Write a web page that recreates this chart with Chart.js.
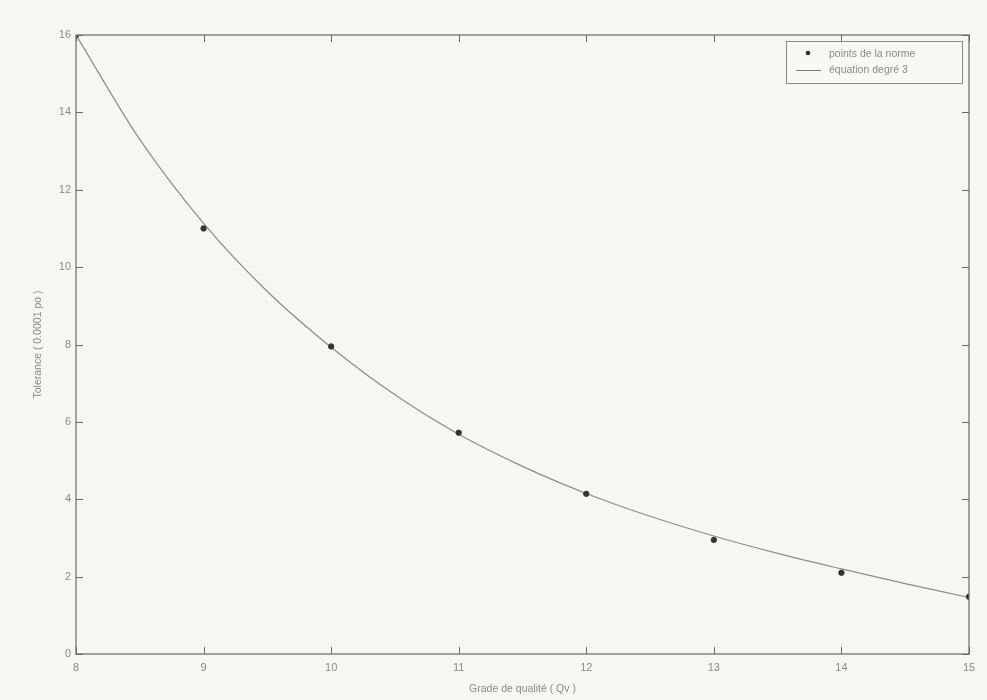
<!DOCTYPE html>
<html>
<head>
<meta charset="utf-8">
<script src="https://cdn.jsdelivr.net/npm/chart.js@4/dist/chart.umd.min.js"></script>
<style>
html,body{margin:0;padding:0;background:#f6f6f2;}
#wrap{width:987px;height:700px;}
</style>
</head>
<body>
<div id="wrap"><canvas id="c" width="987" height="700"></canvas></div>
<script>
const xTicks = [8, 9, 10, 11, 12, 13, 14, 15];
const yTicks = [0, 2, 4, 6, 8, 10, 12, 14, 16];
const normX = [8, 9, 10, 11, 12, 13, 14, 15];
const normY = [16, 11, 7.95, 5.72, 4.14, 2.95, 2.1, 1.48];
const curveX = [8, 8.5, 9, 9.5, 10, 10.5, 11, 11.5, 12, 12.5, 13, 13.5, 14, 14.5, 15];
const curveY = [16, 13.3, 11.13, 9.37, 7.93, 6.70, 5.68, 4.85, 4.15, 3.56, 3.05, 2.6, 2.2, 1.82, 1.46];
const legendLabels = ['points de la norme', 'équation degré 3'];
const xTitle = 'Grade de qualité ( Qv )';
const yTitle = 'Tolerance ( 0.0001 po )';

const axisColor = '#6a6a6a';
const textColor = '#8a8a8a';
const FONT = 'Liberation Sans, Arial, sans-serif';

const framePlugin = {
  id: 'frame',
  afterDatasetsDraw(chart) {
    const {ctx, chartArea: a, scales: {x, y}} = chart;
    ctx.save();
    ctx.strokeStyle = axisColor;
    ctx.lineWidth = 1.2;
    ctx.strokeRect(a.left, a.top, a.right - a.left, a.bottom - a.top);
    ctx.lineWidth = 1;
    const t = 7;
    xTicks.forEach(v => {
      const px = Math.round(x.getPixelForValue(v)) + 0.5;
      ctx.beginPath();
      ctx.moveTo(px, a.bottom); ctx.lineTo(px, a.bottom - t);
      ctx.moveTo(px, a.top); ctx.lineTo(px, a.top + t);
      ctx.stroke();
    });
    yTicks.forEach(v => {
      const py = Math.round(y.getPixelForValue(v)) + 0.5;
      ctx.beginPath();
      ctx.moveTo(a.left, py); ctx.lineTo(a.left + t, py);
      ctx.moveTo(a.right, py); ctx.lineTo(a.right - t, py);
      ctx.stroke();
    });
    // legend
    const lx = 786, ly = 41, lw = 176, lh = 42;
    ctx.fillStyle = '#f8f8f5';
    ctx.fillRect(lx, ly, lw, lh);
    ctx.strokeStyle = '#8a8a8a';
    ctx.strokeRect(lx + 0.5, ly + 0.5, lw, lh);
    ctx.font = '10.5px ' + FONT;
    ctx.fillStyle = textColor;
    ctx.textBaseline = 'middle';
    ctx.textAlign = 'left';
    ctx.fillText(legendLabels[0], 829, 54);
    ctx.fillText(legendLabels[1], 829, 70);
    ctx.fillStyle = '#333';
    ctx.beginPath(); ctx.arc(808, 53, 2.3, 0, Math.PI * 2); ctx.fill();
    ctx.strokeStyle = '#777';
    ctx.beginPath(); ctx.moveTo(796, 70.5); ctx.lineTo(821, 70.5); ctx.stroke();
    // axis titles
    ctx.fillStyle = textColor;
    ctx.textAlign = 'center';
    ctx.fillText(xTitle, (a.left + a.right) / 2, 689);
    ctx.save();
    ctx.translate(38, (a.top + a.bottom) / 2);
    ctx.rotate(-Math.PI / 2);
    ctx.fillText(yTitle, 0, 0);
    ctx.restore();
    ctx.restore();
  }
};

new Chart(document.getElementById('c'), {
  type: 'scatter',
  data: {
    datasets: [
      {
        label: legendLabels[1],
        data: curveX.map((v, i) => ({x: v, y: curveY[i]})),
        showLine: true,
        borderColor: '#8c8c8c',
        borderWidth: 1.2,
        pointRadius: 0,
        cubicInterpolationMode: 'monotone',
        fill: false,
        order: 2
      },
      {
        label: legendLabels[0],
        data: normX.map((v, i) => ({x: v, y: normY[i]})),
        showLine: false,
        backgroundColor: '#333',
        borderColor: '#333',
        pointRadius: 2.7,
        order: 1
      }
    ]
  },
  options: {
    responsive: false,
    animation: false,
    layout: {padding: {top: 35, right: 18, left: 0, bottom: 0}},
    plugins: {legend: {display: false}, tooltip: {enabled: false}},
    scales: {
      x: {
        type: 'linear', min: 8, max: 15,
        afterBuildTicks: s => { s.ticks = xTicks.map(v => ({value: v})); },
        afterFit: s => { s.height = 46; },
        grid: {display: false, drawTicks: false},
        border: {display: false},
        ticks: {color: textColor, font: {size: 11, family: FONT}, padding: 7}
      },
      y: {
        type: 'linear', min: 0, max: 16,
        afterBuildTicks: s => { s.ticks = yTicks.map(v => ({value: v})); },
        afterFit: s => { s.width = 76; },
        grid: {display: false, drawTicks: false},
        border: {display: false},
        ticks: {color: textColor, font: {size: 11, family: FONT}, padding: 5}
      }
    }
  },
  plugins: [framePlugin]
});
</script>
</body>
</html>
